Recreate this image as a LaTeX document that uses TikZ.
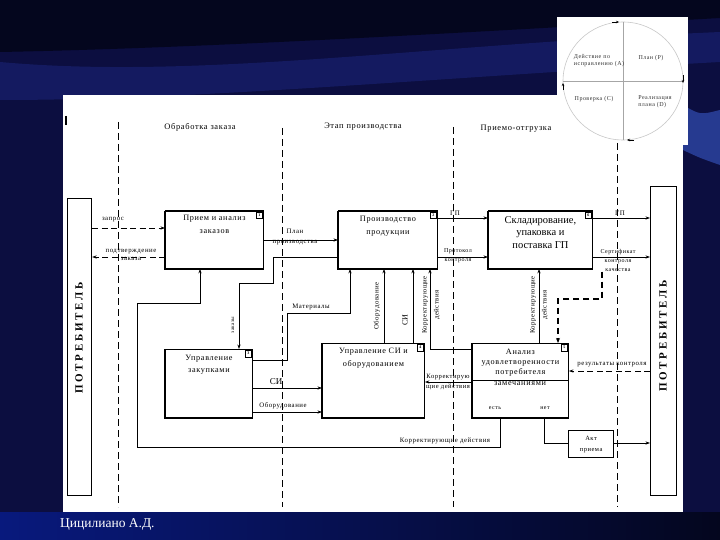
\documentclass[tikz,border=0pt]{standalone}
\usepackage{fontspec}
\setmainfont{Liberation Serif}
\newfontfamily\dfont[LetterSpace=8]{Liberation Serif}
\newfontfamily\pfont[LetterSpace=25]{Liberation Serif}
\usetikzlibrary{arrows.meta,calc}
\definecolor{bgnavy}{RGB}{12,14,64}
\definecolor{bgblue}{RGB}{30,42,135}
\definecolor{bglite}{RGB}{60,95,210}
\definecolor{bgdark}{RGB}{4,6,30}
\definecolor{bgbot}{RGB}{8,25,125}
\definecolor{circgray}{RGB}{200,200,200}
\begin{document}
\begin{tikzpicture}[x=1pt,y=-1pt,
  box/.style={draw, line width=0.9pt, fill=white, inner sep=0pt, anchor=north west},
  con/.style={line width=0.7pt},
  arr/.style={con,-{Stealth[length=4.5pt,width=3.2pt]}},
  darr/.style={arr, dash pattern=on 6pt off 3.5pt},
  tdarr/.style={line width=1.5pt, dash pattern=on 6pt off 4pt, -{Stealth[length=5pt,width=4pt]}},
  lane/.style={line width=0.6pt, dash pattern=on 7pt off 4pt},
  lbl/.style={font=\dfont\fontsize{6.8}{8}\selectfont, inner sep=0.3pt, align=center},
  slbl/.style={font=\dfont\fontsize{6}{8}\selectfont, inner sep=0.3pt, align=center},
  btxt/.style={font=\dfont\fontsize{8.2}{12.5}\selectfont, align=center, inner sep=0pt, anchor=north},
  ttl/.style={font=\dfont\fontsize{8.4}{9}\selectfont, inner sep=0pt},
  itxt/.style={font=\dfont\fontsize{6}{7}\selectfont, align=left, inner sep=0pt, text=black!80},
  numsq/.style={draw, line width=0.5pt, minimum size=6.5pt, inner sep=0pt, font=\fontsize{4}{4}\selectfont\bfseries, anchor=north east, fill=white},
  cons/.style={font=\pfont\bfseries\fontsize{11}{11}\selectfont, rotate=90, inner sep=0pt},
]
\useasboundingbox (0,0) rectangle (720,540);
% ---------- background ----------
\fill[bgnavy] (0,0) rectangle (720,540);
\fill[bgdark] (0,0) -- (720,0) -- (720,18) .. controls (420,35) and (200,48) .. (0,52) -- cycle;
\fill[bgblue, opacity=0.45] (0,62) .. controls (200,80) and (420,45) .. (720,32) -- (720,62) .. controls (430,78) and (200,100) .. (0,100) -- cycle;
\fill[bglite, opacity=0.55] (683,105) .. controls (700,115) .. (720,110) -- (720,165) .. controls (700,158) .. (683,150) -- cycle;
\shade[left color=bgbot, right color=bgdark] (0,512) rectangle (720,540);
% ---------- panel ----------
\fill[white] (63,95) rectangle (683,512);
% ---------- PDCA inset ----------
\fill[white] (557,17) rectangle (688,145);
\draw[circgray, line width=0.6pt] (623,81) ellipse [x radius=60pt, y radius=59pt];
\draw[gray!70, line width=0.5pt] (623,22) -- (623,140);
\draw[gray!70, line width=0.5pt] (563,81) -- (683,81);
\draw[-{Stealth[length=3pt,width=2.5pt]}, line width=0.6pt] (612,22) -- (619,22);
\draw[-{Stealth[length=3pt,width=2.5pt]}, line width=0.6pt] (683,75) -- (683,83);
\draw[-{Stealth[length=3pt,width=2.5pt]}, line width=0.6pt] (634,140) -- (627,140);
\draw[-{Stealth[length=3pt,width=2.5pt]}, line width=0.6pt] (563,90) -- (563,83);
\node[itxt] at (599,61) {Действие по\\исправлению (A)};
\node[itxt] at (651,58) {План (P)};
\node[itxt] at (594,99) {Проверка (C)};
\node[itxt] at (655,102) {Реализация\\плана (D)};
% ---------- marker and lanes ----------
\draw[line width=1.2pt] (66,116) -- (66,125);
\draw[lane] (118,122) -- (118,507);
\draw[lane] (282,128) -- (282,507);
\draw[lane] (453,127) -- (453,507);
\draw[lane] (617,143) -- (617,507);
\node[ttl] at (200,127) {Обработка заказа};
\node[ttl] at (363,127) {Этап производства};
\node[ttl] at (516,129) {Приемо-отгрузка};
% ---------- boxes ----------
\node[box, minimum width=24pt, minimum height=297pt, line width=1.2pt] (cL) at (67,198) {};
\node[box, minimum width=26pt, minimum height=309pt, line width=1.2pt] (cR) at (650,186) {};
\node[box, minimum width=98pt, minimum height=57pt] (b1) at (165,211) {};
\node[box, minimum width=99pt, minimum height=57pt] (b2) at (338,211) {};
\node[box, minimum width=104pt, minimum height=57pt] (b3) at (488,211) {};
\node[box, minimum width=87pt, minimum height=68pt] (b4) at (165,349) {};
\node[box, minimum width=102pt, minimum height=74pt] (b5) at (322,343) {};
\node[box, minimum width=96pt, minimum height=74pt] (b6) at (472,343) {};
\node[box, minimum width=45pt, minimum height=27pt, line width=1.2pt] (b7) at (568,430) {};
\foreach \b in {b1,b2,b3,b4,b5,b6}
  \draw[line width=1.8pt] (\b.north west) -- (\b.south west) -- (\b.south east);
\foreach \b in {b1,b2,b3}
  \draw[line width=1.5pt] (\b.north west) -- (\b.north east);
\node[numsq] at ($(b1.north east)+(-1,1)$) {1};
\node[numsq] at ($(b2.north east)+(-1,1)$) {2};
\node[numsq] at ($(b3.north east)+(-1,1)$) {6};
\node[numsq] at ($(b4.north east)+(-1,1)$) {3};
\node[numsq] at ($(b5.north east)+(-1,1)$) {4};
\node[numsq] at ($(b6.north east)+(-1,1)$) {5};
% box texts
\node[cons] at (79,338) {ПОТРЕБИТЕЛЬ};
\node[cons] at (663,336) {ПОТРЕБИТЕЛЬ};
\node[btxt] at ($(b1.north)+(0,4)$) {Прием и анализ\\заказов};
\node[btxt] at ($(b2.north)+(0,5)$) {Производство\\продукции};
\node[btxt, font=\fontsize{10.5}{12.5}\selectfont] at ($(b3.north)+(0,5)$) {Складирование,\\упаковка и\\поставка ГП};
\node[btxt] at ($(b4.north)+(0,5.5)$) {Управление\\закупками};
\node[btxt] at ($(b5.north)+(0,5)$) {Управление СИ и\\оборудованием};
\node[btxt, font=\dfont\fontsize{8.2}{10}\selectfont] at ($(b6.north)+(0,6)$) {Анализ\\удовлетворенности\\потребителя};
\node[btxt, font=\dfont\fontsize{8.2}{10}\selectfont] at (520,381.5) {замечаниями};
\node[slbl] at (495,408) {есть};
\node[slbl] at (545,408) {нет};
\node[slbl, font=\dfont\fontsize{6.5}{11}\selectfont] at (b7.center) {Акт\\приема};
% ---------- helper coordinates ----------
\foreach \v in {218,228,240,257,283,299,303,313,349,360,371,380,382,388,412,443,447}
  \coordinate (h\v) at (0,\v);
\foreach \v in {137,200,239,273,287,350,384,413,430,500,539,544,558,602}
  \coordinate (v\v) at (\v,0);
\draw[con] (b6.west |- h380) -- (b6.east |- h380);
% ---------- connectors ----------
\draw[darr] (cL.east |- h228) -- (b1.west |- h228);
\draw[darr] (b1.west |- h257) -- (cL.east |- h257);
\draw[arr] (b1.east |- h240) -- (b2.west |- h240);
\draw[arr] (b2.west |- h257) -- (v273 |- h257) -- (v273 |- h283) -- (v239 |- h283) -- (v239 |- b4.north);
\draw[arr] (b4.east |- h360) -- (v287 |- h360) -- (v287 |- h313) -- (v350 |- h313) -- (v350 |- b2.south);
\draw[arr] (v500 |- b6.south) -- (v500 |- h447) -- (v137 |- h447) -- (v137 |- h303) -- (v200 |- h303) -- (v200 |- b1.south);
\draw[arr] (b4.east |- h388) -- (b5.west |- h388);
\draw[arr] (b4.east |- h412) -- (b5.west |- h412);
\draw[arr] (v384 |- b5.north) -- (v384 |- b2.south);
\draw[arr] (v413 |- b5.north) -- (v413 |- b2.south);
\draw[arr] (b6.west |- h349) -- (v430 |- h349) -- (v430 |- b2.south);
\draw[arr] (v539 |- b6.north) -- (v539 |- b3.south);
\draw[arr] (b2.east |- h218) -- (b3.west |- h218);
\draw[arr] (b2.east |- h257) -- (b3.west |- h257);
\draw[arr] (b3.east |- h218) -- (cR.west |- h218);
\draw[arr] (b3.east |- h257) -- (cR.west |- h257);
\draw[darr] (cR.west |- h371) -- (b6.east |- h371);
\draw[arr] (b6.west |- h382) -- (b5.east |- h382);
\draw[con] (v544 |- b6.south) -- (v544 |- h443) -- (b7.west |- h443);
\draw[arr] (b7.east |- h443) -- (cR.west |- h443);
% ---------- connector labels ----------
\node[lbl] at (113,220) {запрос};
\node[lbl] at (131,255) {подтверждение\\заказа};
\node[lbl, font=\dfont\fontsize{6.8}{10}\selectfont] at (295,237) {План\\производства};
\node[slbl, font=\dfont\fontsize{7}{8}\selectfont] at (455,213) {ГП};
\node[slbl, font=\dfont\fontsize{6}{9}\selectfont] at (458,255.5) {Протокол\\контроля};
\node[slbl, font=\dfont\fontsize{7}{8}\selectfont] at (620,213) {ГП};
\node[slbl, font=\dfont\fontsize{6}{9}\selectfont] (cert) at (618,260) {Сертификат\\контроля\\качества};
\draw[tdarr] (cert.south -| v602) -- (v602 |- h299) -- (v558 |- h299) -- (v558 |- b6.north);
\node[lbl] at (612,365) {результаты контроля};
\node[lbl] at (311,307) {Материалы};
\node[slbl, rotate=90, font=\dfont\fontsize{5.2}{6}\selectfont] at (233,325) {заказы};
\node[lbl, rotate=90] at (377,306) {Оборудование};
\node[rotate=90, font=\fontsize{8}{8}\selectfont, inner sep=0pt] at (405,320) {СИ};
\node[lbl, rotate=90, font=\dfont\fontsize{6.8}{12}\selectfont] at (431,305) {Корректирующие\\действия};
\node[lbl, rotate=90, font=\dfont\fontsize{6.8}{12}\selectfont] at (539,305) {Корректирующие\\действия};
\node[font=\fontsize{9}{9}\selectfont, inner sep=0pt] at (276,382) {СИ};
\node[lbl] at (283,406) {Оборудование};
\node[lbl, font=\dfont\fontsize{6.6}{10}\selectfont] at (448,382) {Корректирую\\щие действия};
\node[lbl] at (445,441) {Корректирующие действия};
% ---------- footer ----------
\node[white, font=\fontsize{13.5}{15}\selectfont, anchor=west, inner sep=0pt] at (60,524) {Цицилиано А.Д.};
\end{tikzpicture}
\end{document}
